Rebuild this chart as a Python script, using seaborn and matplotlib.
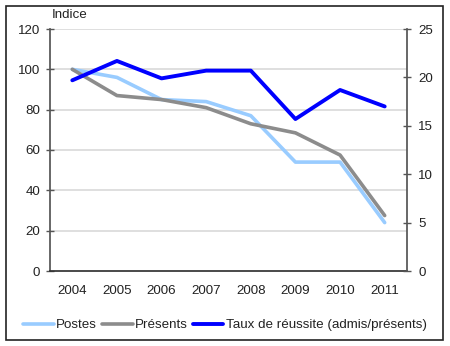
import matplotlib
matplotlib.use("Agg")
import matplotlib.pyplot as plt
import seaborn as sns
import pandas as pd
from matplotlib.patches import Rectangle
from matplotlib.lines import Line2D

years = ["2004", "2005", "2006", "2007", "2008", "2009", "2010", "2011"]
postes = [100, 96, 85, 84, 77, 54, 54, 24]
presents = [100, 87, 85, 81, 73, 68.5, 57.5, 27.5]
taux = [19.7, 21.7, 19.9, 20.7, 20.7, 15.7, 18.7, 17.0]

sns.set_theme(style="white")
plt.rcParams["font.family"] = ["Liberation Sans", "DejaVu Sans"]
FS = 9.6
plt.rcParams["font.size"] = FS

W, H = 450, 346
fig = plt.figure(figsize=(W / 100, H / 100), dpi=100)
ax = fig.add_axes([50 / W, 1 - 271 / H, (407 - 50) / W, (271 - 29) / H])

df = pd.DataFrame({"year": years, "Postes": postes, "Présents": presents, "Taux": taux})

c_postes = "#99ccff"
c_pres = "#8c8c8c"
c_taux = "#0000ff"

for y in [20, 40, 60, 80, 100, 120]:
    ax.axhline(y, color="#d9d9d9", lw=1.2, zorder=0)

sns.lineplot(data=df, x="year", y="Postes", ax=ax, color=c_postes, lw=2.6, sort=False)
sns.lineplot(data=df, x="year", y="Présents", ax=ax, color=c_pres, lw=2.6, sort=False)

ax2 = ax.twinx()
sns.lineplot(data=df, x="year", y="Taux", ax=ax2, color=c_taux, lw=2.8, sort=False)

ax.set_xlim(-0.5, 7.5)
ax.set_ylim(0, 120)
ax2.set_ylim(0, 25)
ax.set_yticks(range(0, 121, 20))
ax2.set_yticks(range(0, 26, 5))
ax.set_xticks(range(8))
ax.set_xticklabels(years)
ax.set_xticks([i - 0.5 for i in range(9)], minor=True)
for a in (ax, ax2):
    a.set_xlabel("")
    a.set_ylabel("")
    a.grid(False)
    a.spines["top"].set_visible(False)
ax.spines["right"].set_visible(False)
ax2.spines["left"].set_visible(False)
ax2.spines["bottom"].set_visible(False)
ax.spines["left"].set_color("#555555")
ax.spines["bottom"].set_color("#333333")
ax2.spines["right"].set_color("#555555")

ax.tick_params(axis="x", which="major", length=0, pad=10, labelsize=FS, colors="#222222")
ax.tick_params(axis="x", which="minor", length=6, direction="inout", color="#333333", width=1)
ax.tick_params(axis="y", length=6, direction="inout", color="#555555", width=1, labelsize=FS, pad=4,
               labelcolor="#222222")
ax2.tick_params(axis="y", length=6, direction="inout", color="#555555", width=1, labelsize=FS, pad=5,
                labelcolor="#222222")
ax.patch.set_alpha(0)

fig.text(52 / W, 1 - 15 / H, "Indice", fontsize=FS, ha="left", va="center", color="#222222")

handles = [Line2D([], [], color=c_postes, lw=2.6),
           Line2D([], [], color=c_pres, lw=2.6),
           Line2D([], [], color=c_taux, lw=2.8)]
labels = ["Postes", "Présents", "Taux de réussite (admis/présents)"]
fig.legend(handles, labels, loc="center", bbox_to_anchor=(0.5, 1 - 325 / H), ncol=3,
           frameon=False, fontsize=FS, handlelength=2.3, handletextpad=0.2, columnspacing=0.35,
           labelcolor="#222222")

fig.patches.append(Rectangle((6 / W, 1 - 340 / H), (443 - 6) / W, (340 - 6) / H,
                             transform=fig.transFigure, fill=False, ec="#222222", lw=1.2))

fig.savefig("out.png", dpi=100)
